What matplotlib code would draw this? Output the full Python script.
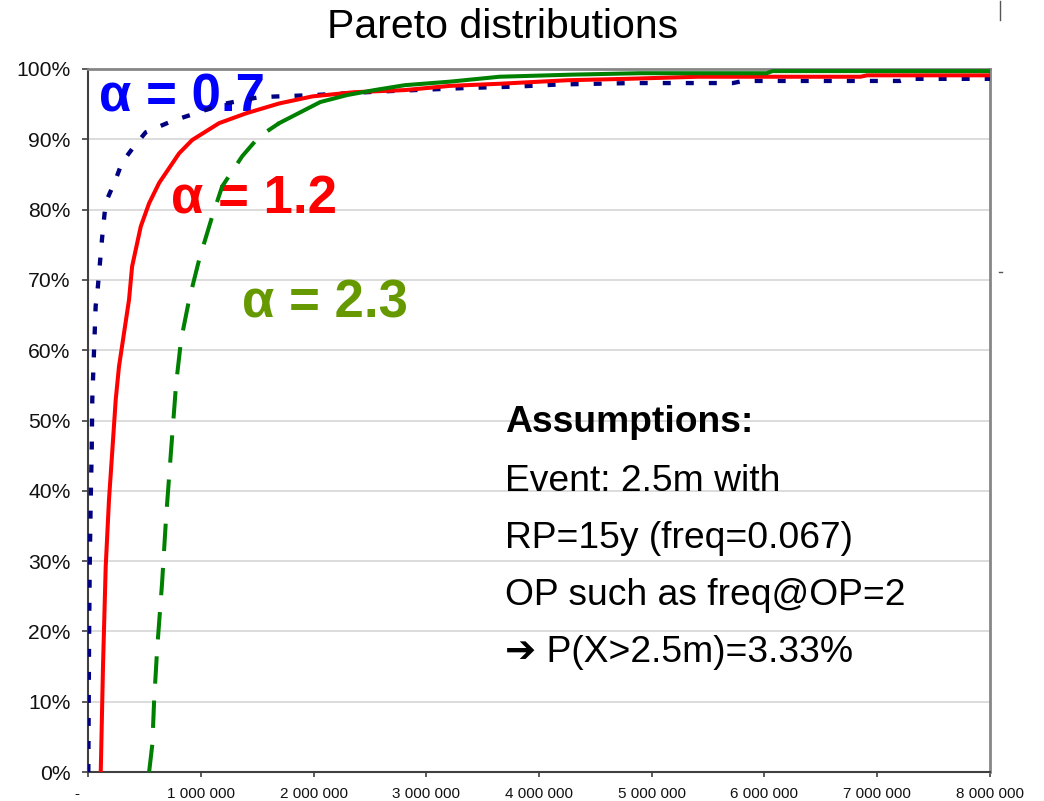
import matplotlib
matplotlib.use("Agg")
import matplotlib.pyplot as plt
from matplotlib.lines import Line2D
from matplotlib.ticker import FixedLocator, FuncFormatter
from matplotlib.transforms import ScaledTranslation

plt.rcParams["font.family"] = ["Liberation Sans", "DejaVu Sans"]

# Cumulative distribution curves (loss amount, cumulative %)
a07_x = [3_000, 9_000, 15_000, 24_000, 33_000, 38_000, 53_000, 68_000, 83_000,
         127_000, 157_000, 246_000, 302_000, 409_000, 512_000, 746_000, 1_012_000,
         1_190_000, 1_520_000, 2_010_000, 2_240_000, 2_590_000, 3_360_000, 3_800_000,
         4_180_000, 4_830_000, 5_720_000, 5_810_000, 7_200_000, 7_260_000, 8_000_000]
a07_p = [0, 17.4, 29.0, 38.7, 45.8, 53.0, 59.7, 66.3, 68.2,
         76.3, 81.0, 84.3, 86.7, 89.0, 91.0, 92.6, 94.0,
         95.0, 96.0, 96.3, 96.5, 96.8, 97.3, 97.5,
         97.8, 98.0, 98.0, 98.3, 98.3, 98.6, 98.6]

a12_x = [113_000, 133_000, 157_000, 186_000, 216_000, 246_000, 275_000, 320_000,
         364_000, 391_000, 468_000, 542_000, 631_000, 808_000, 924_000, 1_163_000,
         1_403_000, 1_696_000, 1_989_000, 2_360_000, 2_810_000, 3_210_000, 3_650_000,
         4_250_000, 4_780_000, 5_410_000, 6_850_000, 6_910_000, 8_000_000]
a12_p = [0, 15.0, 29.2, 38.7, 45.8, 53.0, 57.7, 62.5,
         67.2, 71.9, 77.6, 80.9, 83.8, 88.0, 89.9, 92.3,
         93.7, 95.1, 96.1, 96.7, 97.0, 97.6, 97.9,
         98.4, 98.6, 98.9, 98.9, 99.1, 99.1]

a23_x = [542_000, 571_000, 586_000, 613_000, 657_000, 693_000, 737_000, 782_000,
         826_000, 897_000, 986_000, 1_101_000, 1_190_000, 1_368_000, 1_519_000,
         1_696_000, 2_060_000, 2_300_000, 2_540_000, 2_810_000, 3_210_000, 3_650_000,
         4_300_000, 4_890_000, 6_020_000, 6_070_000, 8_000_000]
a23_p = [0, 4.0, 10.0, 17.4, 26.9, 36.3, 45.8, 55.3,
         61.5, 67.2, 72.9, 79.0, 83.3, 87.6, 90.4,
         92.3, 95.3, 96.3, 97.0, 97.7, 98.2, 98.9,
         99.2, 99.4, 99.4, 99.7, 99.7]

x_ticks = [0, 1_000_000, 2_000_000, 3_000_000, 4_000_000,
           5_000_000, 6_000_000, 7_000_000, 8_000_000]
y_ticks = [0, 10, 20, 30, 40, 50, 60, 70, 80, 90, 100]

curve_labels = ["α = 0.7", "α = 1.2", "α = 2.3"]
note_title = "Assumptions:"
note_lines = ["Event: 2.5m with",
              "RP=15y (freq=0.067)",
              "OP such as freq@OP=2",
              "➔ P(X>2.5m)=3.33%"]

W, H = 1044, 801
fig = plt.figure(figsize=(W / 100, H / 100), dpi=100)
ax = fig.add_axes([88 / W, 1 - 772 / H, (990 - 88) / W, (772 - 69) / H])

ax.set_xlim(0, 8_000_000)
ax.set_ylim(0, 100)

# gridlines
ax.yaxis.grid(True, color="#d6d6d6", lw=1.2)
ax.set_axisbelow(True)

# curves
ax.plot(a07_x, a07_p, color="#000080", lw=3.1,
        linestyle=(0, (1.85, 3.5)), zorder=3)
ax.plot(a12_x, a12_p, color="#FF0000", lw=2.9, zorder=3,
        solid_joinstyle="round")
k = a23_x.index(1_696_000)
ax.plot(a23_x[:k + 1], a23_p[:k + 1], color="#008000", lw=2.9,
        linestyle=(0, (6.8, 4.2)), zorder=3)
ax.plot(a23_x[k:], a23_p[k:], color="#008000", lw=2.9, zorder=3,
        solid_joinstyle="round")

# spines
for side in ("left", "bottom"):
    ax.spines[side].set_color("#404040")
    ax.spines[side].set_linewidth(1.5)
for side in ("top", "right"):
    ax.spines[side].set_color("#868686")
    ax.spines[side].set_linewidth(2.0)

ax.xaxis.set_major_locator(FixedLocator(x_ticks))
ax.yaxis.set_major_locator(FixedLocator(y_ticks))
ax.xaxis.set_major_formatter(
    FuncFormatter(lambda v, _: "-" if v == 0 else f"{int(v):,}".replace(",", " ")))
ax.yaxis.set_major_formatter(FuncFormatter(lambda v, _: f"{int(v)}%"))
ax.tick_params(axis="y", direction="out", length=4.5, width=1.2,
               color="#404040", labelsize=15.2, pad=8, labelcolor="#111111")
ax.tick_params(axis="x", direction="out", length=3.5, width=1.2,
               color="#404040", labelsize=11, pad=7, labelcolor="#111111")

# the "-" zero label sits a little left of its tick
zero_tick = ax.xaxis.get_major_ticks()[0]
zero_tick.label1.set_transform(
    zero_tick.label1.get_transform() + ScaledTranslation(-11 / 100, 0, fig.dpi_scale_trans))

# curve annotations
ax.text(98_000, 94.0, curve_labels[0], color="#0000FF", fontsize=38,
        fontweight="bold", va="baseline", ha="left", zorder=2)
ax.text(737_000, 79.5, curve_labels[1], color="#FF0000", fontsize=38,
        fontweight="bold", va="baseline", ha="left", zorder=2)
ax.text(1_368_000, 64.6, curve_labels[2], color="#669900", fontsize=38,
        fontweight="bold", va="baseline", ha="left", zorder=2)

# assumptions box
ax.text(3_700_000, 48.4, note_title, fontsize=26.8, fontweight="bold",
        va="baseline", ha="left", color="#000000")
for yb, line in zip([40.0, 31.9, 23.8, 15.6], note_lines):
    ax.text(3_700_000, yb, line, fontsize=26.8, va="baseline", ha="left",
            color="#000000", family=["Liberation Sans", "DejaVu Sans"])

fig.text(503 / W, 1 - 38 / H, "Pareto distributions", ha="center",
         va="baseline", fontsize=29.5, color="#000000")

# slide edge marks
fig.add_artist(Line2D([1000 / W, 1000 / W], [1 - 1 / H, 1 - 20 / H],
                      color="#555555", lw=1.0))
fig.add_artist(Line2D([999 / W, 1002 / W], [1 - 272 / H, 1 - 272 / H],
                      color="#555555", lw=1.0))

fig.savefig("out.png", dpi=100)
